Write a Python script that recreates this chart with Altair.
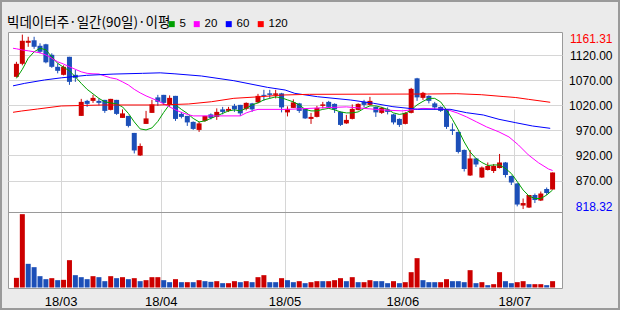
import altair as alt
import pandas as pd

# ---------------- data ----------------
idx = list(range(92))
opens = [1077, 1103, 1145, 1150, 1139, 1142, 1121, 1097, 1081, 1117,
         1081, 999, 1029, 1029, 1029, 1031, 1011, 1031, 995, 999,
         965, 920, 983, 1005, 1036, 1041, 1021, 1039, 1003, 999,
         987, 971, 989, 1002, 997, 1012, 1009, 1019, 1021, 1013,
         1024, 1026, 1041, 1044, 1041, 1044, 1006, 1015, 1024, 1013,
         993, 997, 1019, 1027, 1023, 1007, 984, 993, 1011, 1027,
         1021, 1017, 1005, 1012, 1002, 993, 983, 1005, 1074, 1035,
         1039, 1024, 1017, 1011, 972, 967, 931, 880, 914, 876,
         891, 889, 895, 906, 879, 864, 820, 816, 841, 830,
         853, 852]
highs = [1107, 1161.31, 1157, 1157, 1144, 1143, 1124, 1104, 1100, 1117,
         1091, 1033, 1031, 1041, 1034, 1031, 1033, 1031, 1012, 999,
         965, 944, 1009, 1031, 1041, 1041, 1040, 1039, 1007, 999,
         988, 987, 999, 1004, 1014, 1017, 1017, 1023, 1021, 1026,
         1025, 1043, 1051, 1051, 1051, 1045, 1018, 1032, 1025, 1014,
         1005, 1019, 1027, 1029, 1024, 1008, 1001, 1022, 1024, 1031,
         1037, 1018, 1017, 1016, 1003, 994, 1007, 1055, 1075, 1047,
         1040, 1027, 1018, 1012, 984, 968, 932, 931, 915, 898,
         906, 903, 923, 907, 880, 865, 834, 841, 844, 848,
         856, 886]
lows = [1076, 1100, 1137, 1133, 1124, 1104, 1095, 1084, 1080, 1061,
        1067, 999, 1017, 1025, 1020, 1005, 1010, 1001, 995, 976,
        924, 919, 983, 1005, 1019, 1021, 1017, 989, 994, 979,
        971, 967, 987, 992, 991, 1002, 1007, 1007, 999, 1010,
        1007, 1024, 1029, 1034, 1034, 1006, 998, 1015, 1005, 993,
        983, 996, 1014, 1014, 1005, 979, 983, 992, 1010, 1016,
        1020, 997, 1003, 1002, 982, 977, 982, 1004, 1029, 1031,
        1024, 1012, 1007, 973, 961, 924, 888, 879, 897, 875,
        890, 885, 894, 876, 861, 818.32, 813, 815, 825, 829,
        841, 852]
closes = [1103, 1149, 1149, 1137, 1127, 1106, 1097, 1089, 1097, 1067,
          1075, 1027, 1023, 1035, 1025, 1009, 1033, 1003, 1004, 979,
          930, 939, 994, 1022, 1027, 1025, 1035, 993, 997, 986,
          973, 984, 999, 995, 1007, 1007, 1013, 1012, 1004, 1025,
          1012, 1039, 1039, 1041, 1044, 1016, 1013, 1026, 1009, 994,
          997, 1015, 1022, 1017, 1012, 981, 991, 1013, 1023, 1021,
          1029, 1006, 1015, 1007, 986, 981, 1005, 1053, 1036, 1045,
          1029, 1016, 1009, 977, 969, 927, 893, 914, 902, 896,
          899, 899, 906, 881, 866, 822, 825, 841, 831, 844,
          845, 886]
volumes = [29, 220, 71, 61, 34, 25, 28, 22, 23, 82,
           37, 31, 25, 34, 31, 19, 34, 28, 31, 25,
           28, 19, 22, 31, 31, 22, 16, 25, 16, 16,
           16, 22, 19, 17, 19, 13, 13, 19, 16, 19,
           16, 31, 37, 16, 16, 28, 22, 16, 19, 13,
           16, 19, 19, 19, 22, 28, 19, 31, 16, 16,
           22, 19, 19, 13, 19, 13, 16, 46, 88, 22,
           16, 16, 16, 25, 19, 19, 16, 52, 13, 16,
           7, 10, 46, 19, 13, 16, 19, 10, 10, 10,
           7, 19]
vol_dir = list("uudddduduu" "ddduddudud" "uduuuddudu" "dudduduudu" "duudduddud"
               "uuduuududu" "uddduduuud" "dduudddudu" "duudduuduu" "du")

ma5 = [1074, 1092, 1114, 1127, 1134, 1131, 1117, 1104, 1096, 1089,
       1077, 1064, 1052, 1043, 1034, 1027, 1025, 1023, 1017, 1004,
       987, 973, 971, 975, 988, 1006, 1022, 1021, 1012, 1004,
       994, 987, 989, 994, 999, 1004, 1009, 1011, 1009, 1014,
       1021, 1025, 1031, 1034, 1037, 1035, 1031, 1027, 1021, 1012,
       1009, 1009, 1012, 1014, 1011, 1007, 1005, 1005, 1007, 1014,
       1019, 1019, 1016, 1012, 1005, 1002, 1004, 1011, 1021, 1028,
       1034, 1034, 1027, 1011, 992, 971, 947, 927, 914, 906,
       900, 901, 901, 894, 884, 868, 851, 839, 834, 834,
       841, 851]
ma20_idx = [-0.58, 0, 1, 2, 3, 4, 5, 6, 7, 8, 9, 10, 11, 12, 13, 14, 15, 16, 17, 18,
            19, 20, 21, 22, 23, 24, 25, 26, 27, 28, 29, 30, 34, 38, 39, 40, 41, 46,
            51.6, 56, 62, 65.5, 67.7, 69, 73, 74.8, 76.4, 78.1, 79.8, 81.9, 83.6,
            85.2, 86.9, 88.6, 90.3, 91]
ma20 = [1134, 1133, 1130.6, 1129, 1127, 1125, 1120.6, 1114, 1107, 1102.6, 1097,
        1092, 1087, 1084, 1083, 1082.7, 1078.7, 1075, 1072.7, 1067,
        1060.7, 1052, 1045, 1039, 1034, 1029, 1023, 1017, 1011, 1006, 1002, 999,
        999, 999, 1005, 1009, 1012, 1012,
        1015, 1017, 1011, 1009, 1012, 1014, 1012, 1005, 997, 987, 977, 967, 957,
        941, 921, 905.5, 893, 890]
ma60_idx = [-0.58, 1.4, 4.75, 7.6, 11.9, 16.4, 21.4, 24.4, 26.9, 31.4, 36.9, 42.6,
            45.6, 47.25, 51.1, 56.75, 60.6, 63.9, 68.1, 73.6, 76.4, 79.25, 81.9,
            84.75, 87.6, 90.6]
ma60 = [1059, 1064, 1070.7, 1075, 1080, 1082.5, 1084, 1085, 1083, 1078.7, 1069.3,
        1056, 1050.7, 1044, 1037.3, 1030.7, 1024.2, 1017.4, 1012.2, 1012.2, 1005.4,
        1000.8, 992.2, 985.4, 978.8, 974.2]
ma120_idx = [-0.58, 0.9, 3.6, 7.6, 14.75, 24.25, 29.25, 33.1, 36.9, 41.4, 45.25,
             49.75, 69.75, 74.75, 78.9, 82.6, 84.75, 86.9, 90.6]
ma120 = [1006.2, 1008.8, 1012.8, 1018.8, 1020.8, 1020.8, 1022.8, 1027.3, 1034.1,
         1037.3, 1040.7, 1042.1, 1042.7, 1043.3, 1041.3, 1037.7, 1035.7, 1032.1, 1026.2]

ma_names = ["5", "20", "60", "120"]
ma_colors = ["#00a000", "#ff00ff", "#0000ff", "#ff0000"]

month_pos = [7.5, 24.5, 45.5, 65.5, 84.5]
month_labels = ["18/03", "18/04", "18/05", "18/06", "18/07"]
price_ticks = [870, 920, 970, 1020, 1070, 1120]
price_max = 1161.31
price_min = 818.32
title_text = "빅데이터주·일간(90일)·이평"

UP, DOWN = "#cc0000", "#1c4fb8"
GRID = "#d6d6d6"
LAB = "Liberation Sans"
KR = "Noto Sans CJK KR"

# ---------------- tables ----------------
candles = pd.DataFrame({
    "idx": idx, "open": opens, "high": highs, "low": lows, "close": closes,
})
candles["dir"] = ["up" if c >= o else "down" for o, c in zip(opens, closes)]
candles["lo"] = candles[["open", "close"]].min(axis=1)
candles["hi"] = candles[["open", "close"]].max(axis=1)

vol = pd.DataFrame({"idx": idx, "vol": volumes,
                    "dir": ["up" if d == "u" else "down" for d in vol_dir]})

ma = pd.concat([
    pd.DataFrame({"idx": idx, "val": ma5, "ma": "5"}),
    pd.DataFrame({"idx": ma20_idx, "val": ma20, "ma": "20"}),
    pd.DataFrame({"idx": ma60_idx, "val": ma60, "ma": "60"}),
    pd.DataFrame({"idx": ma120_idx, "val": ma120, "ma": "120"}),
], ignore_index=True)

# ---------------- scales / axes ----------------
x_scale = alt.Scale(domain=[-3.5 / 6, (554 - 3.5) / 6], nice=False, zero=False)
label_expr = f"'{month_labels[-1]}'"
for p, lab in reversed(list(zip(month_pos[:-1], month_labels[:-1]))):
    label_expr = f"datum.value < {p + 1} ? '{lab}' : ({label_expr})"
x_axis = alt.Axis(values=month_pos, labelExpr=label_expr, title=None, domain=False,
                  ticks=False, tickSize=0, labelPadding=13, labelBaseline="middle",
                  labelFont=LAB, labelFontSize=13, labelColor="#000000",
                  grid=True, gridColor=GRID, labelFlush=False, labelOverlap=False)
X = alt.X("idx:Q", scale=x_scale, axis=x_axis)

price_scale = alt.Scale(domain=[809.1, 1166.53], range=[179, 0], nice=False, zero=False)
edge_test = f"datum.value > {price_max - 1} || datum.value < {price_min + 1}"
price_axis = alt.Axis(
    orient="right", values=price_ticks + [price_max, price_min], format=".2f",
    title=None, domain=False, ticks=False, tickSize=0, labelPadding=50,
    labelAlign="right", labelBaseline="middle", labelFont=LAB, labelFontSize=12,
    labelOverlap=False, labelFlush=False, grid=True, gridColor=GRID,
    labelColor={"condition": [
        {"test": f"datum.value > {price_max - 1}", "value": "#ff0000"},
        {"test": f"datum.value < {price_min + 1}", "value": "#0000ff"}],
        "value": "#000000"},
    labelOffset={"condition": {"test": f"datum.value > {price_max - 1}", "value": 3.5},
                 "value": 0},
    gridOpacity={"condition": {"test": edge_test, "value": 0}, "value": 1},
)
vol_scale = alt.Scale(domain=[0, 225], range=[255.5, 180.5], nice=False)
dir_color = alt.Color("dir:N", scale=alt.Scale(domain=["up", "down"], range=[UP, DOWN]),
                      legend=None)

# ---------------- price panel ----------------
base = alt.Chart(candles)
wicks = base.mark_rule(strokeWidth=1).encode(
    x=X, y=alt.Y("low:Q", scale=price_scale, axis=price_axis), y2="high:Q", color=dir_color)
bodies = base.mark_bar(size=5).encode(
    x=X, y=alt.Y("lo:Q", scale=price_scale, axis=price_axis), y2="hi:Q", color=dir_color)
ma_legend = alt.Legend(
    title=None, orient="none", legendX=158, legendY=-14, direction="horizontal",
    labelFont=LAB, labelFontSize=11.5, labelColor="#000000",
    labelOffset=2, columnPadding=0, symbolType="square", symbolSize=1,
    symbolStrokeWidth=5, symbolOffset=0, padding=0)
lines = alt.Chart(ma).mark_line(strokeWidth=1).encode(
    x=X, y=alt.Y("val:Q", scale=price_scale, axis=price_axis),
    stroke=alt.Stroke("ma:N", scale=alt.Scale(domain=ma_names, range=ma_colors),
                      legend=ma_legend),
)
price = alt.layer(wicks, bodies, lines)

# ---------------- volume panel + decorations ----------------
vbars = alt.Chart(vol).mark_bar(size=5).encode(
    x=X, y=alt.Y("vol:Q", scale=vol_scale, axis=None), color=dir_color)
sep = alt.Chart(alt.Data(values=[{}])).mark_rule(color="#9a9a9a", strokeWidth=1).encode(
    x=alt.value(0), x2=alt.value(554), y=alt.value(180.5))
frame = alt.Chart(alt.Data(values=[{}])).mark_rect(
    filled=False, stroke="#9a9a9a", strokeWidth=2).encode(
    x=alt.value(-7), x2=alt.value(611), y=alt.value(-31), y2=alt.value(277))
title = alt.Chart(alt.Data(values=[{"t": title_text}])).mark_text(
    align="left", baseline="alphabetic", font=KR, fontSize=13.5, color="#000000").encode(
    text="t:N", x=alt.value(-1), y=alt.value(-5))
volume = alt.layer(vbars, sep, frame, title)

chart = alt.layer(price, volume).resolve_scale(y="independent").properties(
    width=554, height=256,
    padding={"left": 8, "top": 32, "right": 58, "bottom": 22},
    autosize="none", background="#ebebeb",
    view=alt.ViewBackground(fill="#ffffff", stroke="#9a9a9a", strokeWidth=1),
)

chart.save("out.html", embed_options={"renderer": "svg", "actions": False})
